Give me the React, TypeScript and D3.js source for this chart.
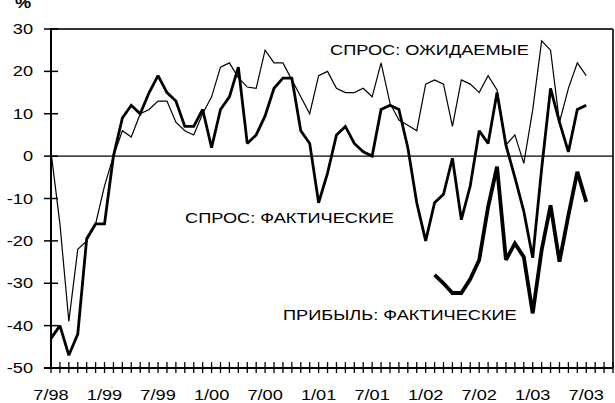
import * as d3 from 'd3';

const width = 615;
const height = 403;
const plotLeft = 51;
const plotRight = 613;
const plotTop = 29;
const plotBottom = 368;

// месяцы от 7/98 (индекс 0) до 10/03 (индекс 63)
const monthCount = 63;
const tickLabels = ['7/98', '1/99', '7/99', '1/00', '7/00', '1/01', '7/01', '1/02', '7/02', '1/03', '7/03'];
const yTicks = [30, 20, 10, 0, -10, -20, -30, -40, -50];

// СПРОС: ОЖИДАЕМЫЕ, 7/98 .. 7/03
const demandExpected = [
  1, -16, -39, -22, -20, -16, -7, 0, 6, 4.5, 10, 11, 13, 13, 8, 6, 5, 10, 14, 21, 22, 18.5, 16.3, 16,
  25, 22, 22, 18, 14, 10, 19, 20, 16, 15, 15, 16, 14, 22, 12.5, 8.5, 7.3, 6, 17, 18, 17, 7, 18, 17,
  15, 19, 15.6, 2.6, 5, -1.7, 10.9, 27.2, 25, 8, 16, 22, 19,
];

// СПРОС: ФАКТИЧЕСКИЕ, 7/98 .. 7/03
const demandActual = [
  -43, -40, -47, -42, -19.5, -16, -16, 0, 9, 12, 10, 15, 19, 15, 13, 7, 7, 11, 2, 11, 14, 21, 3, 5,
  9.5, 16, 18.4, 18.4, 6, 3, -11, -4, 5, 7, 3, 1, 0, 11, 12, 11, 2, -11, -20, -11, -9, -0.5, -15, -7,
  6, 3, 15, 2.6, -5, -13, -24, -3, 16, 8, 1, 11, 12,
];

// ПРИБЫЛЬ: ФАКТИЧЕСКИЕ, 2/02 .. 7/03
const profitStart = 43;
const profitActual = [-28, -30, -32.3, -32.3, -29, -24.5, -12, -2.5, -24.5, -20.6, -23.8, -37.1, -22.2, -11.6, -24.9, -14, -3.7, -10.8];

const font = '"Liberation Sans", Arial, sans-serif';
const stretch = 1.3; // текст в оригинале растянут по горизонтали

const Label = ({
  x,
  y,
  anchor = 'start',
  bold = false,
  children,
}: {
  x: number;
  y: number;
  anchor?: 'start' | 'middle' | 'end';
  bold?: boolean;
  children: string;
}) => (
  <text
    transform={`translate(${x},${y}) scale(${stretch},1)`}
    textAnchor={anchor}
    fontFamily={font}
    fontSize={14}
    fontWeight={bold ? 'bold' : 'normal'}
    fill="#000"
  >
    {children}
  </text>
);

export default function App() {
  const x = d3.scaleLinear().domain([0, monthCount]).range([plotLeft, plotRight]);
  const y = d3.scaleLinear().domain([-50, 30]).range([plotBottom, plotTop]);

  const line = d3
    .line<[number, number]>()
    .x((d) => x(d[0]))
    .y((d) => y(d[1]));

  const expectedPath = line(demandExpected.map((v, i) => [i, v]))!;
  const actualPath = line(demandActual.map((v, i) => [i, v]))!;
  const profitPath = line(profitActual.map((v, i) => [i + profitStart, v]))!;

  const monthTicks = d3.range(0, monthCount + 1);

  return (
    <svg
      width={width}
      height={height}
      style={{ position: 'absolute', left: 0, top: 0, background: '#fff' }}
    >
      <rect width={width} height={height} fill="#fff" />

      {/* рамка области построения */}
      <line x1={plotLeft} x2={plotRight} y1={plotTop} y2={plotTop} stroke="#333" strokeWidth={2} />
      <line x1={plotRight} x2={plotRight} y1={plotTop} y2={plotBottom} stroke="#333" strokeWidth={2} />

      {/* нулевая линия */}
      <line x1={plotLeft} x2={plotRight} y1={y(0)} y2={y(0)} stroke="#000" strokeWidth={1.2} />

      {/* ряды */}
      <path d={expectedPath} fill="none" stroke="#000" strokeWidth={1.2} strokeLinejoin="miter" strokeMiterlimit={3} />
      <path d={actualPath} fill="none" stroke="#000" strokeWidth={2.8} strokeLinejoin="miter" strokeMiterlimit={2} />
      <path d={profitPath} fill="none" stroke="#000" strokeWidth={3.8} strokeLinejoin="miter" strokeMiterlimit={2} />

      {/* ось Y */}
      <line x1={plotLeft} x2={plotLeft} y1={plotTop - 1} y2={plotBottom + 1} stroke="#000" strokeWidth={2} />
      {yTicks.map((t) => (
        <g key={t}>
          <line x1={plotLeft - 7} x2={plotLeft + 7} y1={y(t)} y2={y(t)} stroke="#000" strokeWidth={1.5} />
          <Label x={33} y={y(t) + 5} anchor="end">
            {String(t)}
          </Label>
        </g>
      ))}

      {/* ось X */}
      <line x1={plotLeft - 7} x2={plotRight} y1={plotBottom} y2={plotBottom} stroke="#000" strokeWidth={2} />
      {monthTicks.map((m) => (
        <line key={m} x1={x(m)} x2={x(m)} y1={plotBottom - 6} y2={plotBottom + 5} stroke="#000" strokeWidth={1.3} />
      ))}
      {tickLabels.map((t, i) => (
        <Label key={t} x={x(i * 6)} y={400} anchor="middle">
          {t}
        </Label>
      ))}

      <Label x={15} y={8} bold>
        %
      </Label>

      {/* подписи рядов */}
      <Label x={330} y={55}>
        СПРОС: ОЖИДАЕМЫЕ
      </Label>
      <Label x={185} y={223}>
        СПРОС: ФАКТИЧЕСКИЕ
      </Label>
      <Label x={283} y={320}>
        ПРИБЫЛЬ: ФАКТИЧЕСКИЕ
      </Label>
    </svg>
  );
}
